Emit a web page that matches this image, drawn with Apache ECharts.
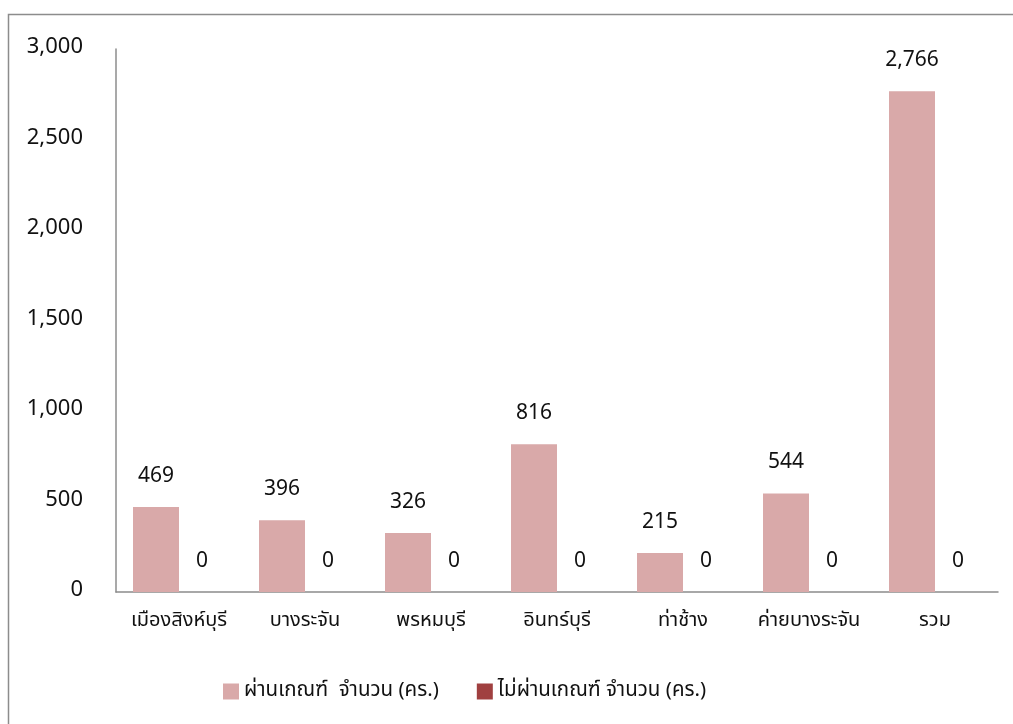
<!DOCTYPE html>
<html><head><meta charset="utf-8">
<script src="https://cdn.jsdelivr.net/npm/echarts@6/dist/echarts.min.js"></script>
<style>html,body{margin:0;padding:0;background:#fff}#c{width:1013px;height:724px}</style>
</head><body><div id="c"></div>
<script>
const categories = ['เมืองสิงห์บุรี','บางระจัน','พรหมบุรี','อินทร์บุรี','ท่าช้าง','ค่ายบางระจัน','รวม'];
const passed = [469, 396, 326, 816, 215, 544, 2766];
const failed = [0, 0, 0, 0, 0, 0, 0];
const seriesNames = ['ผ่านเกณฑ์  จำนวน (คร.)', 'ไม่ผ่านเกณฑ์ จำนวน (คร.)'];
const yTicks = [0, 500, 1000, 1500, 2000, 2500, 3000];

const font = '"Noto Sans Thai","Noto Sans","DejaVu Sans",sans-serif';
const chart = echarts.init(document.getElementById('c'));
const lbl = {show:true, position:'top', distance:19, fontSize:21, color:'#111', fontFamily:font,
  formatter: p => p.value.toLocaleString('en-US')};
chart.setOption({
  animation:false,
  graphic:[{type:'rect', shape:{x:8.5,y:14.5,width:1100,height:800}, style:{fill:'none',stroke:'#8c8c8c',lineWidth:1.5}}],
  grid:{left:116, right:15, top:49, bottom:132},
  legend:{top:676, left:218, itemWidth:16, itemHeight:16, itemGap:38, icon:'rect',
    textStyle:{fontSize:20.5, color:'#111', fontFamily:font}, data:seriesNames},
  xAxis:{type:'category', data:categories,
    axisLine:{lineStyle:{color:'#8c8c8c', width:1.5}}, axisTick:{show:false},
    axisLabel:{fontSize:20, color:'#111', margin:20, fontFamily:font, interval:0}},
  yAxis:{type:'value', min:yTicks[0], max:yTicks[yTicks.length-1], interval:500,
    axisLine:{show:true, lineStyle:{color:'#8c8c8c', width:1.5}}, axisTick:{show:false},
    splitLine:{show:false},
    axisLabel:{fontSize:22, color:'#111', margin:33, fontFamily:font,
      formatter: v => v.toLocaleString('en-US')}},
  series:[
    {name:seriesNames[0], type:'bar', data:passed, barGap:'0%', barCategoryGap:'27%',
      itemStyle:{color:'#d9a9a9'}, label:lbl},
    {name:seriesNames[1], type:'bar', data:failed,
      itemStyle:{color:'#a04040'}, label:lbl}
  ]
});
</script></body></html>
